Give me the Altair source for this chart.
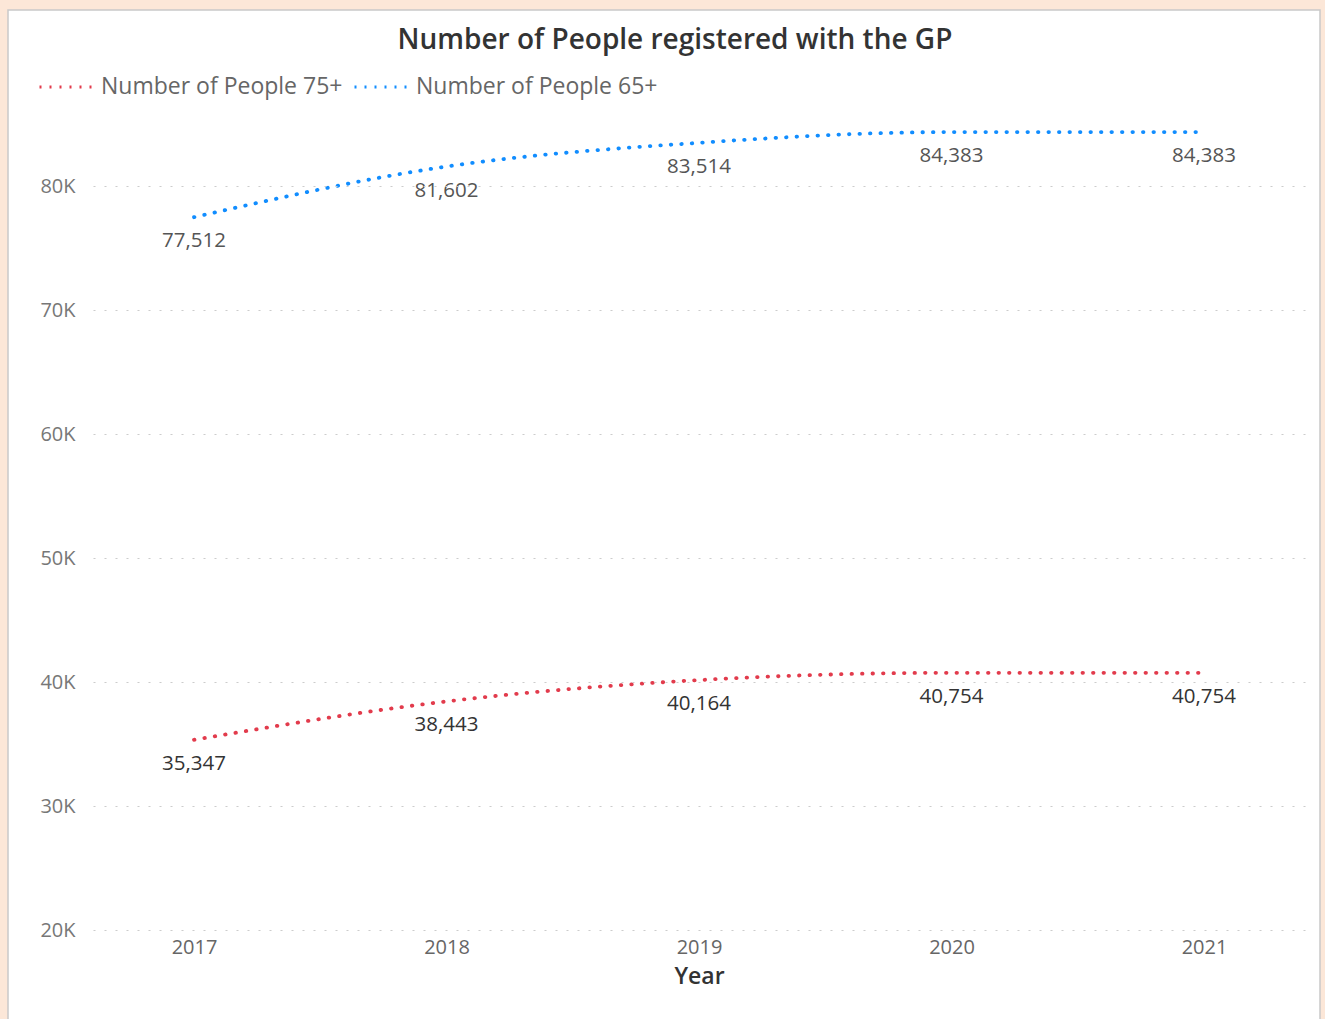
import altair as alt
import pandas as pd

# Registered patients by age band and year
years = ["2017", "2018", "2019", "2020", "2021"]
people_75 = [35347, 38443, 40164, 40754, 40754]
people_65 = [77512, 81602, 83514, 84383, 84383]
series_names = ["Number of People 75+", "Number of People 65+"]
series_colors = ["#E23B4C", "#118DFF"]
label_colors = ["#333333", "#555555"]
y_ticks = [20000, 30000, 40000, 50000, 60000, 70000, 80000]

rows = []
for name, values in zip(series_names, [people_75, people_65]):
    for yr, v in zip(years, values):
        rows.append({"Year": yr, "Series": name, "Value": v})
df = pd.DataFrame(rows)

FONT = "Open Sans"
W, H = 1212, 818
PAD_L, PAD_T, PAD_R, PAD_B = 93, 112, 20, 89

x_enc = alt.X(
    "Year:O",
    scale=alt.Scale(type="point", padding=0.4),
    axis=alt.Axis(
        title="Year", labelAngle=0, labelFontSize=20, labelColor="#666666",
        labelFont=FONT, labelPadding=7, domain=False, ticks=False,
        titleFontSize=23, titleFont=FONT, titleColor="#333333",
        titleFontWeight=600, titlePadding=8, zindex=1,
    ),
)
y_enc = alt.Y(
    "Value:Q",
    scale=alt.Scale(domain=[20000, 86000], nice=False, zero=False),
    axis=alt.Axis(
        title=None, values=y_ticks, labelExpr="datum.value / 1000 + 'K'",
        labelFontSize=20, labelColor="#777777", labelFont=FONT,
        labelPadding=18, domain=False, ticks=False,
        grid=True, gridColor="#cccccc", gridDash=[2, 9], gridWidth=1.2,
        zindex=1,
    ),
)

# white card behind the whole visual
card = alt.Chart(pd.DataFrame({"card": [0]})).mark_rect(
    fill="white", stroke="#c9c9c9", strokeWidth=1.5
).encode(
    x=alt.value(-PAD_L + 8), x2=alt.value(W + PAD_R - 5),
    y=alt.value(-PAD_T + 10), y2=alt.value(H + PAD_B + 10),
)

lines = alt.Chart(df).mark_line(
    interpolate="monotone", strokeWidth=3.8, strokeCap="round",
    strokeDash=[0.5, 10],
).encode(
    x=x_enc,
    y=y_enc,
    color=alt.Color(
        "Series:N",
        scale=alt.Scale(domain=series_names, range=series_colors),
        sort=series_names,
        legend=alt.Legend(
            title=None, orient="none", legendX=-55, legendY=-55,
            direction="horizontal", symbolType="stroke", symbolSize=3249,
            symbolStrokeWidth=3, symbolDash=[2, 8], labelFontSize=23,
            labelColor="#666666", labelFont=FONT, labelOffset=3,
            labelLimit=400, columnPadding=5, padding=0,
        ),
    ),
)

labels = alt.Chart(df).mark_text(dy=24, fontSize=20.5, font=FONT).encode(
    x="Year:O",
    y="Value:Q",
    text=alt.Text("Value:Q", format=","),
    color=alt.condition(
        alt.datum.Series == series_names[0],
        alt.value(label_colors[0]),
        alt.value(label_colors[1]),
    ),
)

chart = alt.layer(card, lines, labels).properties(
    width=W, height=H,
    title=alt.TitleParams(
        "Number of People registered with the GP", fontSize=28, font=FONT,
        color="#333333", fontWeight=600, anchor="middle", dx=-24,
        offset=-46,
    ),
    background="#FCE7D8",
    padding={"left": PAD_L, "top": PAD_T, "right": PAD_R, "bottom": PAD_B},
    autosize=alt.AutoSizeParams(type="none"),
).configure_view(stroke=None)

chart.save("out.html", embed_options={"renderer": "svg", "actions": False})
